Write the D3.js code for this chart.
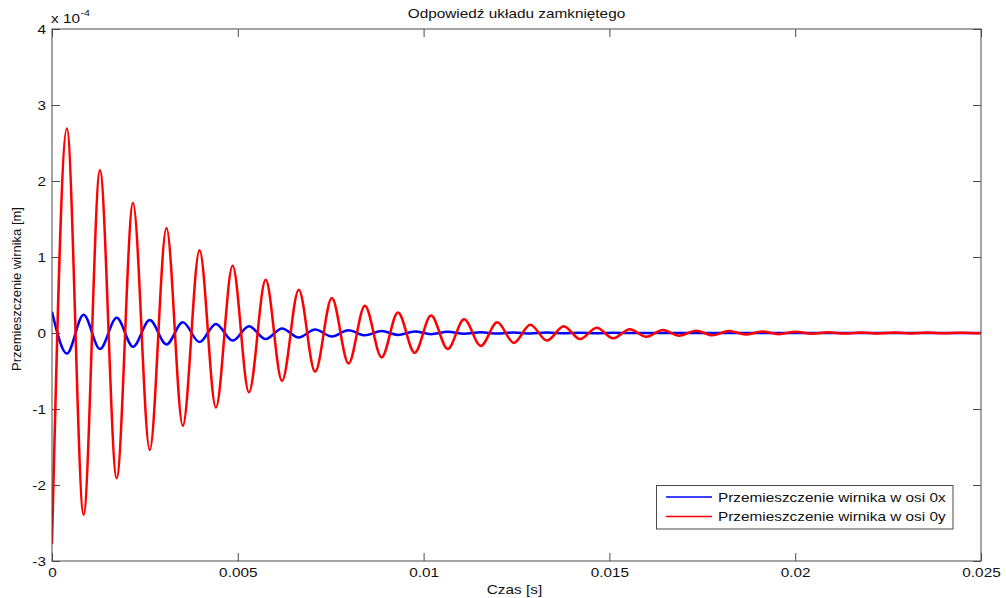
<!DOCTYPE html>
<html><head><meta charset="utf-8">
<script src="https://cdn.jsdelivr.net/npm/d3@7"></script>
<style>body{margin:0;background:#fff} svg{display:block} text{font-family:"Liberation Sans",Arial,sans-serif;fill:#111}</style>
</head><body><svg id="c" width="1006" height="598"></svg>
<script>
// Time instants (s) of the read extrema of both responses
const extremaTimes = [0, 0.00040, 0.00085, 0.00129, 0.00174, 0.00218, 0.00263, 0.00308, 0.00352, 0.00397,
  0.00441, 0.00486, 0.00530, 0.00575, 0.00619, 0.00664, 0.00708, 0.00753, 0.00798, 0.00842,
  0.00887, 0.00931, 0.00976, 0.01020, 0.01065, 0.01109, 0.01154, 0.01198, 0.01243, 0.01287,
  0.01332, 0.01377, 0.01421, 0.01466, 0.01510, 0.01555, 0.01599, 0.01644, 0.01688, 0.01733,
  0.01777, 0.01822, 0.01867, 0.01911, 0.01956, 0.02000, 0.02045, 0.02089, 0.02134, 0.02178,
  0.02223, 0.02267, 0.02312, 0.02356, 0.02401, 0.02446, 0.02490, 0.02500];
// Displacement in axis 0y (x 1e-4 m)
const valuesY = [-2.78, 2.69, -2.39, 2.14, -1.91, 1.71, -1.54, 1.38, -1.22, 1.09,
  -0.98, 0.885, -0.78, 0.70, -0.63, 0.57, -0.51, 0.46, -0.40, 0.36,
  -0.32, 0.27, -0.26, 0.23, -0.21, 0.18, -0.17, 0.14, -0.13, 0.11,
  -0.10, 0.09, -0.08, 0.07, -0.07, 0.05, -0.05, 0.04, -0.035, 0.03,
  -0.03, 0.025, -0.02, 0.02, -0.015, 0.015, -0.01, 0.01, -0.008, 0.008,
  -0.006, 0.006, -0.005, 0.005, -0.004, 0.004, -0.003, 0];
// Displacement in axis 0x (x 1e-4 m)
const valuesX = [0.28, -0.27, 0.24, -0.21, 0.20, -0.18, 0.17, -0.15, 0.14, -0.12,
  0.12, -0.10, 0.09, -0.08, 0.06, -0.06, 0.045, -0.045, 0.035, -0.03,
  0.025, -0.025, 0.02, -0.015, 0.015, -0.01, 0.01, -0.008, 0.008, -0.006,
  0.005, -0.004, 0.004, -0.003, 0.003, 0, 0, 0, 0, 0,
  0, 0, 0, 0, 0, 0, 0, 0, 0, 0,
  0, 0, 0, 0, 0, 0, 0, 0];
const xTicks = [0, 0.005, 0.01, 0.015, 0.02, 0.025];
const xTickLabels = ["0", "0.005", "0.01", "0.015", "0.02", "0.025"];
const yTicks = [-3, -2, -1, 0, 1, 2, 3, 4];
const yTickLabels = ["-3", "-2", "-1", "0", "1", "2", "3", "4"];
const seriesNames = ["Przemieszczenie wirnika w osi 0x", "Przemieszczenie wirnika w osi 0y"];
const seriesColors = ["#0000ff", "#ff0000"];
const titleText = "Odpowiedź układu zamkniętego";
const xLabelText = "Czas [s]";
const yLabelText = "Przemieszczenie wirnika [m]";

const L = 52, R = 981, T = 29, B = 561;
const svg = d3.select("#c");
const x = d3.scaleLinear().domain([0, 0.025]).range([L, R]);
const y = d3.scaleLinear().domain([-3, 4]).range([B, T]);
const axisColor = "#4a4a4a";

svg.append("defs").append("clipPath").attr("id", "clip")
  .append("rect").attr("x", L).attr("y", T).attr("width", R - L).attr("height", B - T);

// Axes
function styleAxis(g) {
  g.select(".domain").remove();
  g.selectAll(".tick line").attr("stroke", axisColor);
  g.selectAll(".tick text").attr("fill", "#111").style("font-size", "13px")
    .style("font-family", '"Liberation Sans", Arial, sans-serif');
}
svg.append("g").attr("transform", `translate(0,${B})`)
  .call(d3.axisBottom(x).tickValues(xTicks).tickFormat((d, i) => xTickLabels[i]).tickSize(-8).tickPadding(7))
  .call(styleAxis).selectAll("text").classed("hs", true);
svg.append("g").attr("transform", `translate(0,${T})`)
  .call(d3.axisTop(x).tickValues(xTicks).tickFormat("").tickSize(-8)).call(styleAxis);
svg.append("g").attr("transform", `translate(${L},0)`)
  .call(d3.axisLeft(y).tickValues(yTicks).tickFormat((d, i) => yTickLabels[i]).tickSize(-8).tickPadding(6))
  .call(styleAxis).selectAll("text").classed("hs", true);
svg.append("g").attr("transform", `translate(${R},0)`)
  .call(d3.axisRight(y).tickValues(yTicks).tickFormat("").tickSize(-8)).call(styleAxis);

// Lines
const plot = svg.append("g").attr("clip-path", "url(#clip)");
const line = d3.line().x(d => x(d[0])).y(d => y(d[1])).curve(d3.curveMonotoneX);
const series = [valuesX, valuesY];
series.forEach((vals, i) => {
  plot.append("path").datum(extremaTimes.map((t, k) => [t, vals[k]]))
    .attr("d", line).attr("fill", "none").attr("stroke", seriesColors[i])
    .attr("stroke-width", 2.5).attr("stroke-linejoin", "round");
});

// Frame
svg.append("rect").attr("x", L).attr("y", T).attr("width", R - L).attr("height", B - T)
  .attr("fill", "none").attr("stroke", axisColor).attr("stroke-width", 1);

// Title & labels
svg.append("text").attr("class", "hs").attr("x", (L + R) / 2).attr("y", 18)
  .attr("text-anchor", "middle").style("font-size", "13px").text(titleText);
svg.append("text").attr("class", "hs").attr("x", (L + R) / 2 - 2).attr("y", 594)
  .attr("text-anchor", "middle").style("font-size", "13px").text(xLabelText);
svg.append("text").attr("transform", "translate(21,289) rotate(-90)")
  .attr("text-anchor", "middle").style("font-size", "13px").text(yLabelText);
// Exponent
svg.append("text").attr("class", "hs").attr("x", 51).attr("y", 22.5).style("font-size", "13px").text("x 10");
svg.append("text").attr("class", "hs").attr("x", 80.5).attr("y", 16).style("font-size", "9px").text("-4");

// Legend
const lg = svg.append("g");
lg.append("rect").attr("x", 656.5).attr("y", 485.5).attr("width", 296.5).attr("height", 43.5)
  .attr("fill", "#fff").attr("stroke", axisColor).attr("stroke-width", 1);
seriesNames.forEach((name, i) => {
  const yy = 497 + i * 19.5;
  lg.append("line").attr("x1", 666).attr("x2", 712).attr("y1", yy).attr("y2", yy)
    .attr("stroke", seriesColors[i]).attr("stroke-width", 1.6);
  lg.append("text").attr("class", "hs").attr("x", 718).attr("y", yy).attr("dy", "0.35em")
    .style("font-size", "13px").text(name);
});

// Horizontal stretch of horizontal texts to match the reference proportions
svg.selectAll("text.hs").each(function () {
  const w = this.getComputedTextLength();
  d3.select(this).attr("textLength", w * 1.18).attr("lengthAdjust", "spacingAndGlyphs");
});
</script></body></html>
